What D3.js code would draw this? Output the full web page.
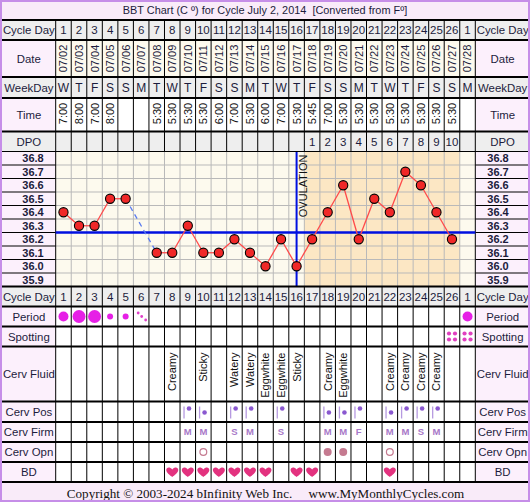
<!DOCTYPE html>
<html lang="en">
<head>
<meta charset="utf-8">
<title>BBT Chart</title>
<script src="https://d3js.org/d3.v7.min.js"></script>
<style>
  body { margin: 0; background: #fff; }
  svg text { font-family: "Liberation Sans", Arial, sans-serif; white-space: pre; }
</style>
</head>
<body>
<script>
// ---- data ----
const cycleDays = [1,2,3,4,5,6,7,8,9,10,11,12,13,14,15,16,17,18,19,20,21,22,23,24,25,26,1];
const dates = ["07/02","07/03","07/04","07/05","07/06","07/07","07/08","07/09","07/10","07/11","07/12","07/13","07/14","07/15",
               "07/16","07/17","07/18","07/19","07/20","07/21","07/22","07/23","07/24","07/25","07/26","07/27","07/28"];
const weekDays = ["W","T","F","S","S","M","T","W","T","F","S","S","M","T","W","T","F","S","S","M","T","W","T","F","S","S","M"];
const times = ["7:00","8:00","7:00","8:00","","","5:30","5:30","5:30","5:30","6:00","7:00","5:30","6:00",
               "7:00","5:30","5:45","7:00","5:30","5:30","5:30","5:30","5:30","5:30","5:30","5:30",""];
const dpo = ["","","","","","","","","","","","","","","","",1,2,3,4,5,6,7,8,9,10,""];
const temps = [36.4,36.3,36.3,36.5,36.5,null,36.1,36.1,36.3,36.1,36.1,36.2,36.1,36.0,
               36.2,36.0,36.2,36.4,36.6,36.2,36.5,36.4,36.7,36.6,36.4,36.2,null];
const tempTicks = [36.8,36.7,36.6,36.5,36.4,36.3,36.2,36.1,36.0,35.9];
const coverline = 36.25;
const ovulationDay = 16;      // column (1-based) of ovulation
const shadeFrom = 17, shadeTo = 26;
const period = ["M","H","H","L","L","S","","","","","","","","","","","","","","","","","","","","","M"];
const spotting = [0,0,0,0,0,0,0,0,0,0,0,0,0,0,0,0,0,0,0,0,0,0,0,0,0,1,1];
const cervFluid = ["","","","","","","","Creamy","","Sticky","","Watery","Watery","Eggwhite",
                   "Eggwhite","Sticky","","Creamy","Eggwhite","","","Creamy","Creamy","Creamy","Creamy","",""];
const cervPos = ["","","","","","","","","H","M","","H","H","","H","","","M","M","H","","M","H","H","H","",""];
const cervFirm = ["","","","","","","","","M","M","","S","M","","S","","","M","M","F","","M","M","S","M","",""];
const cervOpn = ["","","","","","","","","","o","","","","","","","","c","c","","","o","","","","",""];
const bd = [0,0,0,0,0,0,0,1,1,1,1,1,1,1,0,1,1,0,0,0,0,1,0,0,0,0,0];

// ---- layout ----
const W = 530, H = 502;
const left = 55.7, right = 475.3;
const rows = {
  title: [0, 20], cday: [20, 40], date: [40, 77], wday: [77, 98], time: [98, 131.5], dpo: [131.5, 151.5],
  chart: [151.5, 286.5], cday2: [286.5, 306.5], period: [306.5, 326.5], spot: [326.5, 346.5],
  fluid: [346.5, 401.5], pos: [401.5, 422], firm: [422, 442], opn: [442, 462], bd: [462, 482], foot: [482, 502]
};
const idx = d3.range(cycleDays.length);
const x = d3.scaleBand().domain(idx).range([left, right]).padding(0);
const cx = i => x(i) + x.bandwidth() / 2;
const y = d3.scaleLinear().domain([35.85, 36.85]).range([rows.chart[1], rows.chart[0]]);

const ink = "#1c1c3c";
const pinkLab = "#fcf0fc", gray = "#eeeeee", cream = "#fdfaee", shade = "#fce7c4";

const svg = d3.select("body").append("svg").attr("width", W).attr("height", H);

// title + footer bands
svg.append("rect").attr("x", 0).attr("y", 0).attr("width", W).attr("height", 20).attr("fill", "#f9ebf9");
svg.append("rect").attr("x", 0).attr("y", rows.foot[0]).attr("width", W).attr("height", 20).attr("fill", "#f9ebf9");
svg.append("text").attr("x", 265).attr("y", 14).attr("text-anchor", "middle").attr("font-size", 10.9).attr("fill", ink)
  .text("BBT Chart (C º) for Cycle July 2, 2014  [Converted from Fº]");
svg.append("text").attr("x", 265.5).attr("y", 497.5).attr("text-anchor", "middle").attr("font-size", 13.1)
  .attr("fill", "#111").style("font-family", "'Liberation Serif', 'DejaVu Serif', serif")
  .text("Copyright © 2003-2024 bInfinity Web Inc.     www.MyMonthlyCycles.com");

// table rows: [key, left label, cell fill, label fill]
const tableRows = [
  ["cday", "Cycle Day", gray, gray], ["date", "Date", cream, pinkLab], ["wday", "WeekDay", gray, gray],
  ["time", "Time", "#fff", pinkLab], ["dpo", "DPO", gray, gray], ["cday2", "Cycle Day", gray, gray],
  ["period", "Period", "#fff", pinkLab], ["spot", "Spotting", "#fff", pinkLab], ["fluid", "Cerv Fluid", "#fff", pinkLab],
  ["pos", "Cerv Pos", "#fff", pinkLab], ["firm", "Cerv Firm", "#fff", pinkLab], ["opn", "Cerv Opn", "#fff", pinkLab],
  ["bd", "BD", "#fff", pinkLab]
];
tableRows.forEach(([key, label, fill, lfill]) => {
  const [y0, y1] = rows[key];
  const g = svg.append("g");
  g.append("rect").attr("x", 0).attr("y", y0).attr("width", left).attr("height", y1 - y0).attr("fill", lfill);
  g.append("rect").attr("x", right).attr("y", y0).attr("width", W - right).attr("height", y1 - y0).attr("fill", lfill);
  g.selectAll("rect.c").data(idx).join("rect").attr("class", "c")
    .attr("x", i => x(i)).attr("y", y0).attr("width", x.bandwidth()).attr("height", y1 - y0).attr("fill", fill);
  g.selectAll("line").data(idx.concat([idx.length])).join("line")
    .attr("x1", i => i < idx.length ? x(i) : right).attr("x2", i => i < idx.length ? x(i) : right)
    .attr("y1", y0).attr("y2", y1).attr("stroke", "#000").attr("stroke-width", 1);
  [[left / 2 + 1, label], [(right + W) / 2, label]].forEach(([tx, t]) =>
    g.append("text").attr("x", tx).attr("y", (y0 + y1) / 2).attr("dy", "0.36em").attr("text-anchor", "middle")
      .attr("font-size", 11.4).attr("fill", ink).text(t));
});

// row contents
function rowText(key, arr, opts = {}) {
  const [y0, y1] = rows[key];
  svg.append("g").selectAll("text").data(idx).join("text")
    .attr("x", i => cx(i)).attr("y", (y0 + y1) / 2).attr("dy", "0.36em").attr("text-anchor", "middle")
    .attr("font-size", opts.size || 11.5).attr("fill", opts.fill || ink)
    .attr("font-weight", opts.weight || null)
    .text(i => arr[i]);
}
rowText("cday", cycleDays);
rowText("cday2", cycleDays);
rowText("wday", weekDays, { size: 12 });
rowText("dpo", dpo);

function rotText(arr, ypos, anchor, size, fill) {
  svg.append("g").selectAll("text").data(idx).join("text")
    .attr("transform", i => `translate(${cx(i)},${ypos}) rotate(-90)`)
    .attr("dy", "0.36em").attr("text-anchor", anchor).attr("font-size", size).attr("fill", fill)
    .text(i => arr[i]);
}
rotText(dates, 58.5, "middle", 11, ink);
rotText(times, 113.5, "middle", 11, "#111");
rotText(cervFluid, 352.5, "end", 11, "#111");

// ---- temperature chart ----
const [c0, c1] = rows.chart;
const chart = svg.append("g");
chart.append("rect").attr("x", left).attr("y", c0).attr("width", right - left).attr("height", c1 - c0).attr("fill", cream);
chart.append("rect").attr("x", x(shadeFrom - 1)).attr("y", c0)
  .attr("width", x(shadeTo - 1) + x.bandwidth() - x(shadeFrom - 1)).attr("height", c1 - c0).attr("fill", shade);
// label columns
[[0, left], [right, W]].forEach(([a, b]) => {
  chart.append("rect").attr("x", a).attr("y", c0).attr("width", b - a).attr("height", c1 - c0).attr("fill", pinkLab);
  chart.selectAll(null).data(tempTicks.slice(1)).join("line")
    .attr("x1", a).attr("x2", b).attr("y1", t => y(t + 0.05)).attr("y2", t => y(t + 0.05))
    .attr("stroke", "#000").attr("stroke-width", 1);
});
chart.selectAll(null).data(tempTicks).join("text").attr("x", 33).attr("y", t => y(t)).attr("dy", "0.36em")
  .attr("text-anchor", "middle").attr("font-size", 11).attr("font-weight", "bold").attr("fill", ink).text(t => t.toFixed(1));
chart.selectAll(null).data(tempTicks).join("text").attr("x", 498).attr("y", t => y(t)).attr("dy", "0.36em")
  .attr("text-anchor", "middle").attr("font-size", 11).attr("font-weight", "bold").attr("fill", ink).text(t => t.toFixed(1));
// grid
chart.selectAll(null).data(tempTicks.slice(1)).join("line")
  .attr("x1", left).attr("x2", right).attr("y1", t => y(t + 0.05)).attr("y2", t => y(t + 0.05))
  .attr("stroke", "#b9b9b9").attr("stroke-width", 1);
chart.selectAll(null).data(idx.slice(1)).join("line")
  .attr("x1", i => x(i)).attr("x2", i => x(i)).attr("y1", c0).attr("y2", c1)
  .attr("stroke", "#b9b9b9").attr("stroke-width", 1);
chart.append("line").attr("x1", left).attr("x2", left).attr("y1", c0).attr("y2", c1).attr("stroke", "#000");
chart.append("line").attr("x1", right).attr("x2", right).attr("y1", c0).attr("y2", c1).attr("stroke", "#000");

// coverline + ovulation
chart.append("line").attr("x1", left).attr("x2", right).attr("y1", y(coverline)).attr("y2", y(coverline))
  .attr("stroke", "#0010e0").attr("stroke-width", 2.5);
chart.append("line").attr("x1", cx(ovulationDay - 1)).attr("x2", cx(ovulationDay - 1)).attr("y1", c0).attr("y2", c1)
  .attr("stroke", "#0010e0").attr("stroke-width", 2);
chart.append("text").attr("transform", `translate(${cx(ovulationDay - 1) + 6},${c0 + 3}) rotate(-90)`)
  .attr("dy", "0.36em").attr("text-anchor", "end").attr("font-size", 11).attr("fill", "#111").text("OVULATION");

// temperature line segments
const pts = idx.filter(i => temps[i] != null);
const segs = d3.pairs(pts);
chart.selectAll(null).data(segs).join("line")
  .attr("x1", d => cx(d[0])).attr("y1", d => y(temps[d[0]]))
  .attr("x2", d => cx(d[1])).attr("y2", d => y(temps[d[1]]))
  .attr("stroke", d => d[1] - d[0] > 1 ? "#5b7cf0" : "#ff4a4a")
  .attr("stroke-width", 1.3)
  .attr("stroke-dasharray", d => d[1] - d[0] > 1 ? "5,4" : null);
chart.selectAll("circle").data(pts).join("circle")
  .attr("cx", i => cx(i)).attr("cy", i => y(temps[i])).attr("r", 4.6)
  .attr("fill", "#f02828").attr("stroke", "#000").attr("stroke-width", 1.1);

// ---- lower rows ----
const pr = { H: 6.5, M: 5, L: 3 };
const pmid = (rows.period[0] + rows.period[1]) / 2;
svg.append("g").selectAll("circle").data(idx.filter(i => pr[period[i]])).join("circle")
  .attr("cx", i => cx(i)).attr("cy", pmid).attr("r", i => pr[period[i]]).attr("fill", "#e620e6");
idx.filter(i => period[i] === "S").forEach(i => {
  [[-3, -3.5], [0.5, 0], [4.5, 3.5]].forEach(([dx, dy]) =>
    svg.append("circle").attr("cx", cx(i) + dx).attr("cy", pmid + dy).attr("r", 1.4).attr("fill", "#e040c8"));
});
const smid = (rows.spot[0] + rows.spot[1]) / 2;
idx.filter(i => spotting[i]).forEach(i => {
  [[-3, -3], [3, -3], [-3, 3], [3, 3]].forEach(([dx, dy]) =>
    svg.append("circle").attr("cx", cx(i) + dx).attr("cy", smid + dy).attr("r", 2.1).attr("fill", "#e040c0"));
});

// cervical position: bar + dot
idx.filter(i => cervPos[i]).forEach(i => {
  const y0 = rows.pos[0];
  svg.append("line").attr("x1", x(i) + 4).attr("x2", x(i) + 4).attr("y1", y0 + 5).attr("y2", y0 + 17)
    .attr("stroke", "#b69ae0").attr("stroke-width", 1.3);
  svg.append("circle").attr("cx", x(i) + 9).attr("cy", cervPos[i] === "H" ? y0 + 7 : y0 + 11).attr("r", 2.3).attr("fill", "#8a58d0");
});
rowText("firm", cervFirm, { size: 9.5, fill: "#a878c8", weight: "bold" });
const omid = (rows.opn[0] + rows.opn[1]) / 2;
svg.append("g").selectAll("circle").data(idx.filter(i => cervOpn[i])).join("circle")
  .attr("cx", i => cx(i)).attr("cy", omid).attr("r", i => cervOpn[i] === "o" ? 3.4 : 4)
  .attr("fill", i => cervOpn[i] === "o" ? "none" : "#c57a90")
  .attr("stroke", i => cervOpn[i] === "o" ? "#c57a90" : "none").attr("stroke-width", 1.2);

// hearts
const heart = "M0,4.5 C-2,3 -6,0 -6,-2.5 C-6,-5.2 -2.5,-6 0,-3 C2.5,-6 6,-5.2 6,-2.5 C6,0 2,3 0,4.5 Z";
const bmid = (rows.bd[0] + rows.bd[1]) / 2;
svg.append("g").selectAll("path").data(idx.filter(i => bd[i])).join("path")
  .attr("d", heart).attr("transform", i => `translate(${cx(i)},${bmid + 0.5})`).attr("fill", "#e3327f");

// thick row separators
const seps = [20, 40, 77, 98, 131.5, 286.5, 306.5, 326.5, 346.5, 401.5, 422, 442, 462, 482];
svg.append("g").selectAll("line").data(seps).join("line")
  .attr("x1", 0).attr("x2", W).attr("y1", d => d).attr("y2", d => d).attr("stroke", "#000").attr("stroke-width", 2.2);
svg.append("line").attr("x1", 0).attr("x2", W).attr("y1", 151.5).attr("y2", 151.5).attr("stroke", "#000").attr("stroke-width", 1.2);

// outer border
svg.append("rect").attr("x", 1).attr("y", 1).attr("width", W - 2).attr("height", H - 2)
  .attr("fill", "none").attr("stroke", "#c68ee8").attr("stroke-width", 2);
</script>
</body>
</html>
